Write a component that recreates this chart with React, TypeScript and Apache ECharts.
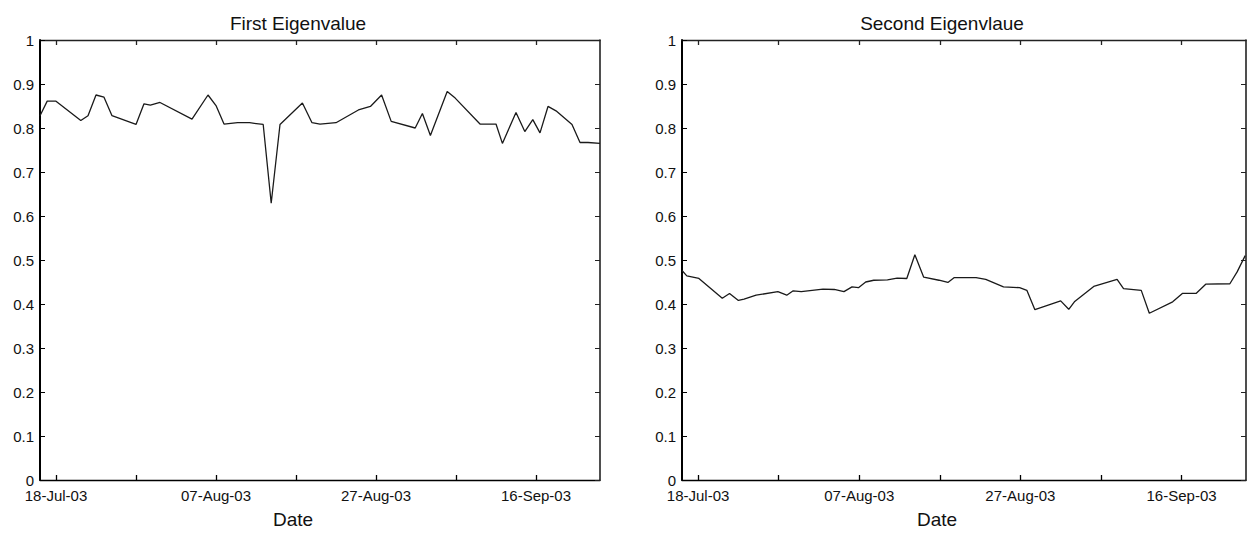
import React, { useEffect, useRef } from "react";
import * as echarts from "echarts";

// x values are days counted from 18-Jul-03
const firstDays = [-2, -1.1, 0, 3.1, 4, 5, 6, 7, 10, 11, 11.8, 13, 17, 19, 20, 21, 22.7, 24.2, 25.9, 26.9, 28, 30.8, 32, 33, 35, 37.8, 39.3, 40.7, 41.9, 44.9, 45.8, 46.8, 48.9, 49.9, 53, 55, 55.8, 57.5, 58.6, 59.6, 60.5, 61.5, 62.5, 64.5, 65.5, 66.5, 68];
const firstValues = [0.828, 0.861, 0.861, 0.817, 0.828, 0.875, 0.870, 0.828, 0.808, 0.855, 0.852, 0.858, 0.820, 0.875, 0.851, 0.809, 0.812, 0.812, 0.808, 0.629, 0.808, 0.857, 0.812, 0.809, 0.812, 0.841, 0.849, 0.875, 0.815, 0.800, 0.833, 0.783, 0.883, 0.868, 0.809, 0.809, 0.765, 0.835, 0.792, 0.819, 0.789, 0.849, 0.839, 0.808, 0.767, 0.767, 0.765];

const secondDays = [-2, -1.4, 0.1, 3, 3.9, 5, 5.7, 7.2, 9.9, 11, 11.8, 12.8, 15.5, 16.9, 18.1, 19.1, 19.9, 20.8, 21.8, 23.5, 24.7, 25.9, 26.9, 28, 29.9, 31, 31.8, 34.5, 35.7, 37.9, 39.9, 40.8, 41.8, 45, 46, 46.7, 49.1, 52, 52.8, 55, 56, 58.9, 60.1, 61.8, 63, 66, 66.9, 67.9];
const secondValues = [0.476, 0.464, 0.458, 0.413, 0.424, 0.408, 0.411, 0.420, 0.428, 0.420, 0.430, 0.428, 0.434, 0.433, 0.428, 0.439, 0.437, 0.450, 0.454, 0.455, 0.459, 0.458, 0.512, 0.461, 0.454, 0.449, 0.460, 0.460, 0.456, 0.439, 0.437, 0.431, 0.387, 0.407, 0.388, 0.405, 0.440, 0.456, 0.435, 0.431, 0.379, 0.405, 0.424, 0.424, 0.445, 0.446, 0.473, 0.510];

const tickDays = [0, 10, 20, 30, 40, 50, 60];
const labelDays = [0, 20, 40, 60];
const tickLabels = ["18-Jul-03", "07-Aug-03", "27-Aug-03", "16-Sep-03"];
const titles = ["First Eigenvalue", "Second Eigenvlaue"];
const xName = "Date";

const FONT = "Liberation Sans";
const TXT = "#111";

function buildAxes(gridIndex: number) {
  const x = {
    type: "value",
    gridIndex,
    min: -2,
    max: 68,
    position: "bottom",
    name: xName,
    nameLocation: "middle",
    nameGap: 30,
    nameTextStyle: { fontFamily: FONT, fontSize: 19, color: TXT, padding: [0, 54, 0, 0] },
    axisLine: { show: true, onZero: false, lineStyle: { color: "#000", width: 1.3 } },
    axisTick: { show: true, inside: true, length: 5, customValues: tickDays, lineStyle: { color: "#000", width: 1.3 } },
    axisLabel: {
      show: true,
      margin: 8,
      customValues: labelDays,
      fontFamily: FONT,
      fontSize: 15,
      lineHeight: 15,
      color: TXT,
      formatter: (v: number) => tickLabels[labelDays.indexOf(Math.round(v))] ?? "",
    },
    splitLine: { show: false },
  };
  const xTop = {
    type: "value",
    gridIndex,
    min: -2,
    max: 68,
    position: "top",
    axisLine: { show: true, onZero: false, lineStyle: { color: "#222", width: 1.3 } },
    axisTick: { show: true, inside: true, length: 5, customValues: tickDays, lineStyle: { color: "#222", width: 1.3 } },
    axisLabel: { show: false },
    splitLine: { show: false },
  };
  const y = {
    type: "value",
    gridIndex,
    min: 0,
    max: 1,
    interval: 0.1,
    position: "left",
    axisLine: { show: true, onZero: false, lineStyle: { color: "#000", width: 2 } },
    axisTick: { show: true, inside: true, length: 5, lineStyle: { color: "#000" } },
    axisLabel: {
      show: true,
      margin: 6,
      fontFamily: FONT,
      fontSize: 15,
      lineHeight: 14,
      padding: [0, 0, 6, 0],
      color: TXT,
      formatter: (v: number) => (Math.abs(v) < 1e-9 ? "0" : Math.abs(v - 1) < 1e-9 ? "1" : v.toFixed(1)),
    },
    splitLine: { show: false },
  };
  const yRight = {
    type: "value",
    gridIndex,
    min: 0,
    max: 1,
    interval: 0.1,
    position: "right",
    axisLine: { show: true, onZero: false, lineStyle: { color: "#222", width: 1.6 } },
    axisTick: { show: true, inside: true, length: 5, lineStyle: { color: "#222" } },
    axisLabel: { show: false },
    splitLine: { show: false },
  };
  return { xs: [x, xTop], ys: [y, yRight] };
}

export default function App() {
  const ref = useRef<HTMLDivElement>(null);
  useEffect(() => {
    document.body.style.margin = "0";
    if (!ref.current) return;
    const chart = echarts.init(ref.current, undefined, { renderer: "svg" });
    const a0 = buildAxes(0);
    const a1 = buildAxes(1);
    const grids = [
      { left: 40, top: 40, width: 560, height: 441 },
      { left: 682, top: 40, width: 564, height: 441 },
    ];
    const titleStyle = { fontFamily: FONT, fontSize: 19, fontWeight: "normal", color: TXT };
    chart.setOption({
      animation: false,
      backgroundColor: "#fff",
      title: [
        { text: titles[0], left: 40 + 280 - 27, top: 9, textAlign: "center", textStyle: titleStyle },
        { text: titles[1], left: 682 + 282 - 27, top: 9, textAlign: "center", textStyle: titleStyle },
      ],
      grid: grids,
      xAxis: [...a0.xs, ...a1.xs],
      yAxis: [...a0.ys, ...a1.ys],
      series: [
        {
          type: "line",
          xAxisIndex: 0,
          yAxisIndex: 0,
          data: firstDays.map((d, i) => [d, firstValues[i]]),
          showSymbol: false,
          symbol: "none",
          lineStyle: { color: "#1a1a1a", width: 1.3 },
        },
        {
          type: "line",
          xAxisIndex: 2,
          yAxisIndex: 2,
          data: secondDays.map((d, i) => [d, secondValues[i]]),
          showSymbol: false,
          symbol: "none",
          lineStyle: { color: "#1a1a1a", width: 1.3 },
        },
      ],
    });
    return () => chart.dispose();
  }, []);
  return <div ref={ref} style={{ width: 1247, height: 534 }} />;
}
